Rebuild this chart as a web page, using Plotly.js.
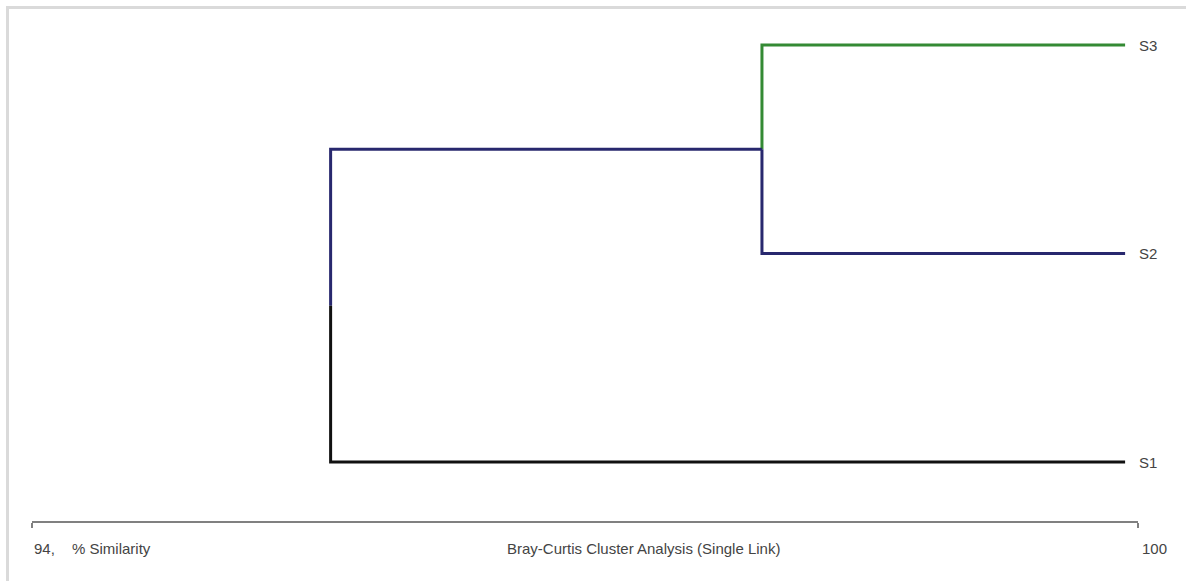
<!DOCTYPE html>
<html>
<head>
<meta charset="utf-8">
<script src="https://cdn.plot.ly/plotly-3.0.1.min.js"></script>
<style>
  html, body { margin: 0; padding: 0; background: #fff; }
  #wrap { position: relative; width: 1186px; height: 581px; overflow: hidden; }
  #chart { position: absolute; left: 0; top: 0; width: 1186px; height: 581px; }
  #frame { position: absolute; left: 6px; top: 6px; width: 1300px; height: 700px;
           border-top: 3px solid #dadada; border-left: 3px solid #dadada; pointer-events: none; }
</style>
</head>
<body>
<div id="wrap"><div id="chart"></div><div id="frame"></div></div>
<script>
// Leaves (bottom to top) and their vertical positions
const leaves = ['S1', 'S2', 'S3'];
const leafPos = [1, 2, 3];
const leafColors = ['#111111', '#28286e', '#348a34'];
// Similarity (%) at which each leaf line ends (right side)
const leafTip = 99.93;
// Merge levels (% similarity)
const mergeS2S3 = 97.96;
const mergeAll = 95.62;
const clusterColor = '#28286e';
// Axis ends
const axisMin = 94;
const axisMax = 100;
const axisLabels = ['94,', '100'];

const nodeS2S3 = (leafPos[1] + leafPos[2]) / 2;
const nodeAll = (leafPos[0] + nodeS2S3) / 2;

const lw = 3;
const traces = [
  { x: [leafTip, mergeS2S3, mergeS2S3], y: [leafPos[2], leafPos[2], nodeS2S3], color: leafColors[2] },
  { x: [leafTip, mergeS2S3, mergeS2S3], y: [leafPos[1], leafPos[1], nodeS2S3], color: leafColors[1] },
  { x: [mergeS2S3, mergeAll, mergeAll], y: [nodeS2S3, nodeS2S3, nodeAll], color: clusterColor },
  { x: [leafTip, mergeAll, mergeAll], y: [leafPos[0], leafPos[0], nodeAll], color: leafColors[0] }
].map(t => ({
  type: 'scatter', mode: 'lines', x: t.x, y: t.y,
  line: { color: t.color, width: lw, shape: 'linear' },
  hoverinfo: 'skip', showlegend: false
}));

const font = { family: 'Liberation Sans, Arial, sans-serif', size: 15, color: '#444444' };

const annotations = leaves.map((name, i) => ({
  x: leafTip, y: leafPos[i], xref: 'x', yref: 'y', text: name,
  showarrow: false, xanchor: 'left', yanchor: 'middle', xshift: 12, font: font
}));
annotations.push(
  { x: axisMin, y: 0, xref: 'x', yref: 'paper', text: axisLabels[0], showarrow: false,
    xanchor: 'left', yanchor: 'middle', yshift: -27, xshift: 0, font: font },
  { x: axisMin, y: 0, xref: 'x', yref: 'paper', text: '% Similarity', showarrow: false,
    xanchor: 'left', yanchor: 'middle', yshift: -27, xshift: 38, font: font },
  { x: 0.553, y: 0, xref: 'paper', yref: 'paper', text: 'Bray-Curtis Cluster Analysis (Single Link)', showarrow: false,
    xanchor: 'center', yanchor: 'middle', yshift: -27, font: font },
  { x: axisMax, y: 0, xref: 'x', yref: 'paper', text: axisLabels[1], showarrow: false,
    xanchor: 'left', yanchor: 'middle', yshift: -27, xshift: 2, font: font }
);

const layout = {
  width: 1186, height: 581,
  margin: { l: 32, r: 48, t: 20, b: 60 },
  paper_bgcolor: '#ffffff', plot_bgcolor: '#ffffff',
  showlegend: false,
  xaxis: {
    range: [axisMin, axisMax], showgrid: false, zeroline: false,
    showline: true, linecolor: '#808080', linewidth: 2,
    tickvals: [axisMin, axisMax], ticks: 'outside', ticklen: 5, tickwidth: 2, tickcolor: '#808080',
    showticklabels: false, fixedrange: true
  },
  yaxis: {
    range: [0.717, 3.12], showgrid: false, zeroline: false, showline: false,
    showticklabels: false, ticks: '', fixedrange: true
  },
  annotations: annotations
};

Plotly.newPlot('chart', traces, layout, { displayModeBar: false, staticPlot: true });
</script>
</body>
</html>
